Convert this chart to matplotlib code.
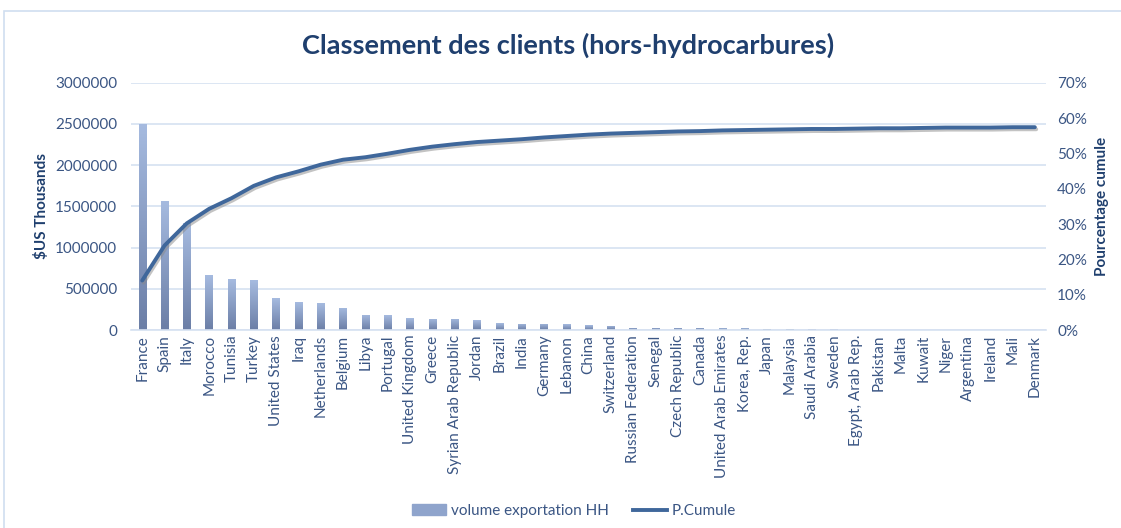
import matplotlib.pyplot as plt
import matplotlib.ticker as mticker
import numpy as np
from matplotlib.patches import Rectangle
from matplotlib.lines import Line2D
from matplotlib.colors import LinearSegmentedColormap
import matplotlib.patheffects as pe

countries = ['France', 'Spain', 'Italy', 'Morocco', 'Tunisia', 'Turkey', 'United States',
             'Iraq', 'Netherlands', 'Belgium', 'Libya', 'Portugal', 'United Kingdom', 'Greece',
             'Syrian Arab Republic', 'Jordan', 'Brazil', 'India', 'Germany', 'Lebanon', 'China',
             'Switzerland', 'Russian Federation', 'Senegal', 'Czech Republic', 'Canada',
             'United Arab Emirates', 'Korea, Rep.', 'Japan', 'Malaysia', 'Saudi Arabia', 'Sweden',
             'Egypt, Arab Rep.', 'Pakistan', 'Malta', 'Kuwait', 'Niger', 'Argentina', 'Ireland',
             'Mali', 'Denmark']

volume = [2500000, 1565000, 1300000, 665000, 617000, 605000, 387000,
          335000, 323000, 270000, 185000, 178000, 145000, 137000,
          135000, 121000, 81000, 78000, 76000, 72000, 60000,
          52000, 28000, 27000, 26000, 25000,
          20000, 19000, 16000, 15000, 8000, 7000,
          6000, 5000, 5000, 4000, 4000, 3500, 3000,
          3000, 3000]

cumule = [14.0, 23.9, 30.2, 34.3, 37.3, 40.8, 43.2,
          44.9, 46.8, 48.2, 48.9, 49.9, 51.0, 51.9,
          52.6, 53.2, 53.6, 54.0, 54.5, 54.9, 55.3,
          55.6, 55.8, 56.0, 56.2, 56.3,
          56.5, 56.6, 56.7, 56.8, 56.9, 56.9,
          57.0, 57.1, 57.1, 57.2, 57.3, 57.3, 57.3,
          57.4, 57.4]

txt = '#3b5684'
title_col = '#1f3f6e'
grid_col = '#d6e1f1'
line_col = '#3f679b'

plt.rcParams['font.family'] = ['Lato', 'DejaVu Sans']

fig = plt.figure(figsize=(11.21, 5.28), dpi=100)
fig.patches.append(Rectangle((0.004, -0.01), 1.0, 0.99, transform=fig.transFigure,
                             fill=False, ec='#d0def0', lw=1.2))

ax = fig.add_axes([0.1169, 0.375, 0.8162, 0.4684])
x = np.arange(len(countries))

# bars with a vertical gradient (light on top, darker at base)
grad = np.linspace(0, 1, 256).reshape(-1, 1)
cmap = LinearSegmentedColormap.from_list('barg', ['#6b7ea6', '#a6bbe0'])
bars = ax.bar(x, volume, width=0.33, color='#8fa4cc', zorder=2)
for b in bars:
    bx, by = b.get_x(), b.get_y()
    w, h = b.get_width(), b.get_height()
    im = ax.imshow(grad, extent=[bx, bx + w, by, by + h], aspect='auto', cmap=cmap,
                   origin='lower', zorder=2)
    im.set_clip_path(b)

ax.set_xlim(-0.5, len(countries) - 0.5)
ax.set_ylim(0, 3000000)
ax.yaxis.set_major_locator(mticker.MultipleLocator(500000))
ax.yaxis.set_major_formatter(mticker.FuncFormatter(lambda v, p: '%d' % v))
ax.grid(axis='y', color=grid_col, lw=1.2, zorder=0)
ax.set_axisbelow(True)
for s in ax.spines.values():
    s.set_visible(False)
ax.spines['bottom'].set_visible(True)
ax.spines['bottom'].set_color(grid_col)
ax.spines['bottom'].set_linewidth(1.2)
ax.tick_params(axis='both', length=0, colors=txt, labelsize=11)
ax.tick_params(axis='y', pad=10)
ax.set_xticks(x)
ax.set_xticklabels(countries, rotation=90, fontsize=11, color=txt)
ax.set_ylabel('$US Thousands', fontsize=11, fontweight='bold', color=title_col, labelpad=4)

ax2 = ax.twinx()
ax2.set_ylim(0, 70)
ax2.yaxis.set_major_locator(mticker.MultipleLocator(10))
ax2.yaxis.set_major_formatter(mticker.FuncFormatter(lambda v, p: '%d%%' % v))
for s in ax2.spines.values():
    s.set_visible(False)
ax2.tick_params(axis='y', length=0, colors=txt, labelsize=11, pad=8)
ax2.plot(x, cumule, color=line_col, lw=2.8, solid_capstyle='round', zorder=3,
         path_effects=[pe.SimpleLineShadow(offset=(1, -1.5), shadow_color='#888888', alpha=0.5),
                       pe.Normal()])
ax2.set_ylabel('Pourcentage cumule', fontsize=11, fontweight='bold', color=title_col, labelpad=6)

fig.text(0.507, 0.915, 'Classement des clients (hors-hydrocarbures)', ha='center', va='center',
         fontsize=19.5, fontweight='bold', color=title_col)

handles = [Rectangle((0, 0), 1, 1, color='#8fa4cc'),
           Line2D([0], [0], color=line_col, lw=2.8)]
fig.legend(handles, ['volume exportation HH', 'P.Cumule'], loc='center',
           bbox_to_anchor=(0.512, 0.032), ncol=2, frameon=False, fontsize=11,
           labelcolor=txt, handlelength=2.2, handletextpad=0.3, columnspacing=1.6)

fig.savefig('out.png', dpi=100)
